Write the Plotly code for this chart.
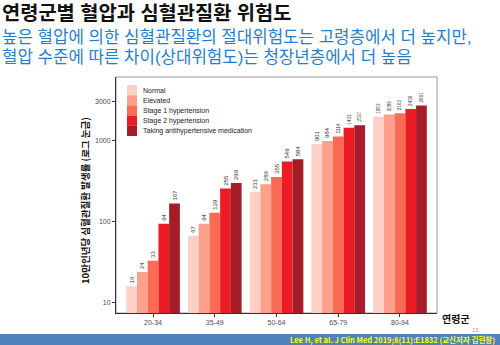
import plotly.graph_objects as go

W, H = 500, 345

age_groups = ["20-34", "35-49", "50-64", "65-79", "80-94"]
series_names = ["Normal", "Elevated", "Stage 1 hypertension", "Stage 2 hypertension",
                "Taking antihypertensive medication"]
normal = [16, 67, 231, 901, 1953]
elevated = [24, 94, 289, 984, 2089]
stage1 = [33, 129, 355, 1114, 2163]
stage2 = [94, 255, 549, 1433, 2439]
medication = [167, 299, 584, 1537, 2691]
series_values = [normal, elevated, stage1, stage2, medication]
colors = ["#FDD0C6", "#FCA08C", "#FB6A52", "#EC1C24", "#A61C28"]
y_tick_vals = [10, 100, 1000, 3000]
y_tick_text = ["10", "100", "1000", "3000"]

title = "연령군별 혈압과 심혈관질환 위험도"
subtitle1 = "높은 혈압에 의한 심혈관질환의 절대위험도는 고령층에서 더 높지만,"
subtitle2 = "혈압 수준에 따른 차이(상대위험도)는 청장년층에서 더 높음"
y_title = "10만인년당 심혈관질환 발생률 (로그 눈금)"
x_title = "연령군"
footer = "Lee H, et al. J Clin Med 2019;8(11):E1832 (교신저자 김현창)"
page_no = "13"

KR = "Noto Sans CJK KR"
KR_TIGHT = "Liberation Sans, Noto Sans CJK KR"
SANS = "Liberation Sans, Arial, sans-serif"

fig = go.Figure()
for name, vals, col in zip(series_names, series_values, colors):
    fig.add_trace(go.Bar(
        x=age_groups, y=vals, name=name, marker=dict(color=col, line=dict(width=0)),
        text=[str(v) for v in vals], textposition="outside", textangle=-90,
        textfont=dict(size=6, color="#333333", family=SANS),
        cliponaxis=False, showlegend=False,
    ))

# pixel helpers
def px_x(x):
    return x / W

def px_y(y):
    return 1 - y / H

x0, x1 = 116, 437
y0, y1 = 77, 313

shapes = []
annotations = []

# panel border (grey)
shapes.append(dict(type="rect", xref="paper", yref="paper",
                   x0=px_x(x0), x1=px_x(x1), y0=px_y(y1), y1=px_y(y0),
                   line=dict(color="#9a9a9a", width=1), layer="below"))

# manual legend
leg_x = 127
leg_top = 85
row_h = 10.2
for i, (name, col) in enumerate(zip(series_names, colors)):
    ty = leg_top + i * row_h
    shapes.append(dict(type="rect", xref="paper", yref="paper",
                       x0=px_x(leg_x), x1=px_x(leg_x + 10),
                       y0=px_y(ty + row_h), y1=px_y(ty),
                       fillcolor=col, line=dict(width=0)))
    annotations.append(dict(xref="paper", yref="paper", x=px_x(leg_x + 14),
                            y=px_y(ty + row_h / 2), text=name, showarrow=False,
                            xanchor="left", yanchor="middle",
                            font=dict(size=7, color="#222222", family=SANS)))

# bottom blue band
shapes.append(dict(type="rect", xref="paper", yref="paper",
                   x0=0, x1=1, y0=0, y1=px_y(334),
                   fillcolor="#4F81BD", line=dict(width=0)))

annotations += [
    dict(xref="paper", yref="paper", x=px_x(1), y=px_y(13), text="<b>" + title + "</b>",
         showarrow=False, xanchor="left", yanchor="middle", borderpad=0,
         font=dict(size=19.8, color="#111111", family=KR_TIGHT)),
    dict(xref="paper", yref="paper", x=px_x(1), y=px_y(38), text=subtitle1, borderpad=0,
         showarrow=False, xanchor="left", yanchor="middle", align="left",
         font=dict(size=16.8, color="#1F7FCF", family=KR_TIGHT)),
    dict(xref="paper", yref="paper", x=px_x(1), y=px_y(57.5), text=subtitle2, borderpad=0,
         showarrow=False, xanchor="left", yanchor="middle", align="left",
         font=dict(size=16.8, color="#1F7FCF", family=KR_TIGHT)),
    dict(xref="paper", yref="paper", x=px_x(85), y=px_y(201), text="<b>" + y_title + "</b>",
         showarrow=False, textangle=-90, xanchor="center", yanchor="middle",
         font=dict(size=9.5, color="#111111", family=KR)),
    dict(xref="paper", yref="paper", x=px_x(471), y=px_y(318.5), text="<b>" + x_title + "</b>",
         showarrow=False, xanchor="right", yanchor="middle", borderpad=0,
         font=dict(size=10, color="#111111", family=KR)),
    dict(xref="paper", yref="paper", x=px_x(471), y=px_y(330), text=page_no,
         showarrow=False, xanchor="left", yanchor="middle", borderpad=0,
         font=dict(size=6, color="#999999", family=SANS)),
    dict(xref="paper", yref="paper", x=px_x(497), y=px_y(339.5), text="<b>" + footer + "</b>",
         showarrow=False, xanchor="right", yanchor="middle",
         font=dict(size=7.5, color="#FFFF00", family=KR)),
]

fig.update_layout(
    width=W, height=H, margin=dict(l=0, r=0, t=0, b=0),
    paper_bgcolor="white", plot_bgcolor="white",
    barmode="group", bargap=0.13, bargroupgap=0,
    xaxis=dict(domain=[px_x(x0), px_x(x1)], range=[-0.6, 4.6], type="category",
               showline=True, linecolor="#333333", linewidth=1, mirror=False,
               ticks="outside", ticklen=3, tickcolor="#333333", showgrid=False,
               tickfont=dict(size=7, color="#4d4d4d", family=SANS), fixedrange=True),
    yaxis=dict(domain=[px_y(y1), px_y(y0)], type="log", range=[0.876, 3.78],
               tickvals=y_tick_vals, ticktext=y_tick_text,
               showline=True, linecolor="#333333", linewidth=1,
               ticks="outside", ticklen=3, tickcolor="#333333", showgrid=False,
               zeroline=False,
               tickfont=dict(size=7, color="#4d4d4d", family=SANS), fixedrange=True),
    shapes=shapes, annotations=annotations,
)

fig.write_html("out.html")
